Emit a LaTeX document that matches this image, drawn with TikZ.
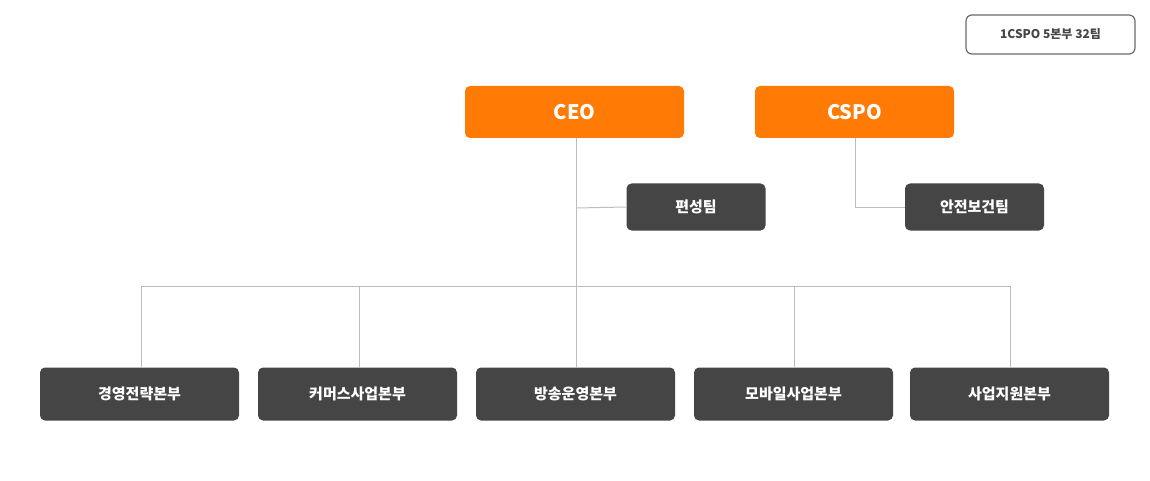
\documentclass[tikz,border=0pt]{standalone}
\usepackage{fontspec}
\setmainfont{Noto Sans CJK KR}
\definecolor{org}{HTML}{FF7B05}
\definecolor{dk}{HTML}{454545}
\definecolor{ln}{HTML}{BDBDBD}
\begin{document}
\begin{tikzpicture}[x=1pt,y=-1pt,
 box/.style={rounded corners=5pt,draw=none,inner sep=0pt,font=\bfseries,text=white},
 top/.style={box,fill=org,minimum height=52pt,font=\bfseries\fontsize{20}{24}\selectfont},
 team/.style={box,fill=dk,minimum height=47pt,minimum width=139pt,font=\bfseries\fontsize{15}{18}\selectfont},
 div/.style={box,fill=dk,minimum height=53pt,minimum width=199pt,font=\bfseries\fontsize{15}{18}\selectfont},
 con/.style={draw=ln,line width=1pt}]
\useasboundingbox (0,0) rectangle (1150,481);
\node[draw=dk!80,line width=1.2pt,rounded corners=6pt,minimum width=169pt,minimum height=39pt,font=\bfseries\fontsize{12}{14}\selectfont,text=dk] (info) at (1050.5,34.5) {1CSPO 5본부 32팀};
\node[top,minimum width=219pt] (ceo) at (574.5,112) {CEO};
\node[top,minimum width=199pt] (cspo) at (854.5,112) {CSPO};
\node[team] (pt) at (696,207) {편성팀};
\node[team] (st) at (974.5,207) {안전보건팀};
\node[div] (d1) at (139.5,394) {경영전략본부};
\node[div] (d2) at (357.5,394) {커머스사업본부};
\node[div] (d3) at (575.5,394) {방송운영본부};
\node[div] (d4) at (793.5,394) {모바일사업본부};
\node[div] (d5) at (1009.5,394) {사업지원본부};
\coordinate (j) at (576,286);
\draw[con] (576,138) -- (j);
\draw[con] (576,208) -- (pt.west);
\draw[con] (855,138) |- (st.west);
\draw[con] (141,286) -- (1010,286);
\draw[con] (141,286) -- (141,368);
\draw[con] (359,286) -- (359,368);
\draw[con] (j) -- (576,368);
\draw[con] (794,286) -- (794,368);
\draw[con] (1010,286) -- (1010,368);
\end{tikzpicture}
\end{document}
